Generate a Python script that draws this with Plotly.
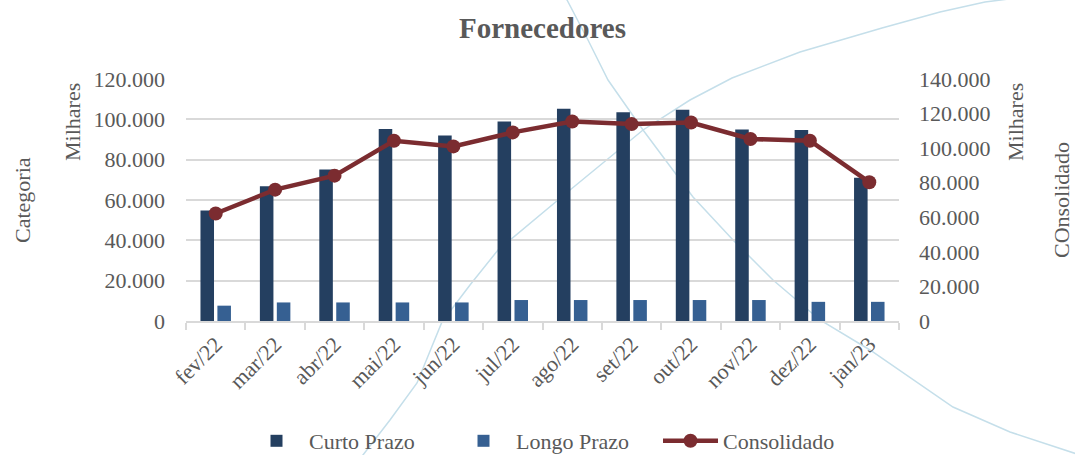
import plotly.graph_objects as go

# ---- data ----
categories = ["fev/22", "mar/22", "abr/22", "mai/22", "jun/22", "jul/22",
              "ago/22", "set/22", "out/22", "nov/22", "dez/22", "jan/23"]
curto_prazo = [54800, 66800, 75100, 95200, 92000, 98900,
               105200, 103500, 104700, 95000, 94700, 71000]
longo_prazo = [7600, 9200, 9200, 9200, 9200, 10400,
               10400, 10400, 10400, 10400, 9500, 9500]
consolidado = [62200, 76000, 84100, 104300, 101000, 109100,
               115400, 113900, 114800, 105300, 104300, 80300]

# ---- styling ----
FONT = "Liberation Serif"
TXT = "#595959"
GRID = "#D9D9D9"
C_CURTO = "#243F60"
C_LONGO = "#366092"
C_CONS = "#7B2C30"

W, H = 1075, 455
L, R, T, B = 186, 899, 79, 321  # plot area in pixels


def px(x, y):
    return (x - L) / (R - L), (B - y) / (B - T)


def path_from(points):
    pts = [px(x, y) for x, y in points]
    d = "M {:.4f},{:.4f}".format(*pts[0])
    for p in pts[1:]:
        d += " L {:.4f},{:.4f}".format(*p)
    return d


# decorative background curves (pixel positions on the page)
curve_a = [(560, -10), (567, 0), (588, 40), (608, 80), (643, 130), (693, 197),
           (733, 240), (773, 280), (820, 320), (870, 350), (953, 407),
           (1010, 432), (1080, 455)]
curve_b = [(355, 465), (363, 455), (390, 420), (417, 383), (442, 322),
           (470, 285), (498, 250), (570, 190), (643, 130), (690, 100),
           (732, 78), (800, 52), (882, 28), (940, 12), (985, 2), (1080, -10)]

fig = go.Figure()
fig.add_trace(go.Bar(x=categories, y=curto_prazo, name="Curto Prazo",
                     marker=dict(color=C_CURTO, line=dict(width=0))))
fig.add_trace(go.Bar(x=categories, y=longo_prazo, name="Longo Prazo",
                     marker=dict(color=C_LONGO, line=dict(width=0))))
fig.add_trace(go.Scatter(x=categories, y=consolidado, name="Consolidado",
                         yaxis="y2", mode="lines+markers",
                         line=dict(color=C_CONS, width=4.5),
                         marker=dict(color=C_CONS, size=14)))

shapes = []
for c in (curve_a, curve_b):
    shapes.append(dict(type="path", xref="paper", yref="paper",
                       path=path_from(c), layer="below",
                       line=dict(color="#C5DFEA", width=1.5)))

annots = []
for text, x, y in [("Categoria", 22, 200), ("Milhares", 72, 122),
                   ("Milhares", 1015, 122), ("COnsolidado", 1061, 200)]:
    ax, ay = px(x, y)
    annots.append(dict(text=text, x=ax, y=ay, xref="paper", yref="paper",
                       textangle=-90, showarrow=False, xanchor="center",
                       yanchor="middle",
                       font=dict(family=FONT, size=22, color=TXT)))

fig.update_layout(
    width=W, height=H,
    margin=dict(l=L, r=W - R, t=T, b=H - B, autoexpand=False),
    paper_bgcolor="white", plot_bgcolor="rgba(0,0,0,0)",
    separators=",.",
    barmode="group", bargap=0.43, bargroupgap=0.2,
    title=dict(text="<b>Fornecedores</b>", x=0.5, xref="paper",
               y=1 - 28 / H, yanchor="middle",
               font=dict(family=FONT, size=29, color=TXT)),
    font=dict(family=FONT, size=22, color=TXT),
    xaxis=dict(type="category", range=[-0.5, len(categories) - 0.5],
               showgrid=False, showline=True,
               linecolor=GRID, linewidth=1.5, ticks="outside",
               tickson="boundaries", ticklen=7, tickcolor=GRID,
               tickwidth=1.5, tickangle=-45,
               tickfont=dict(family=FONT, size=22, color=TXT)),
    yaxis=dict(range=[0, 120000], dtick=20000, tickformat=",d",
               showgrid=True, gridcolor=GRID, gridwidth=1.5,
               zeroline=False, showline=False, ticks="",
               ticklabelstandoff=20,
               tickfont=dict(family=FONT, size=22, color=TXT)),
    yaxis2=dict(range=[0, 140000], dtick=20000, tickformat=",d",
                overlaying="y", side="right", showgrid=False,
                zeroline=False, showline=False, ticks="",
                ticklabelstandoff=19,
                tickfont=dict(family=FONT, size=22, color=TXT)),
    legend=dict(orientation="h", x=244 / W, y=1 - 441 / H,
                xanchor="left", yanchor="middle",
                xref="container", yref="container",
                entrywidth=137, entrywidthmode="pixels",
                itemwidth=55,
                font=dict(family=FONT, size=22, color=TXT),
                bgcolor="rgba(0,0,0,0)"),
    shapes=shapes,
    annotations=annots,
)

fig.write_html("out.html",
               config={"displayModeBar": False},
               post_script="document.body.style.margin='0';"
                           "document.body.style.overflow='hidden';")
